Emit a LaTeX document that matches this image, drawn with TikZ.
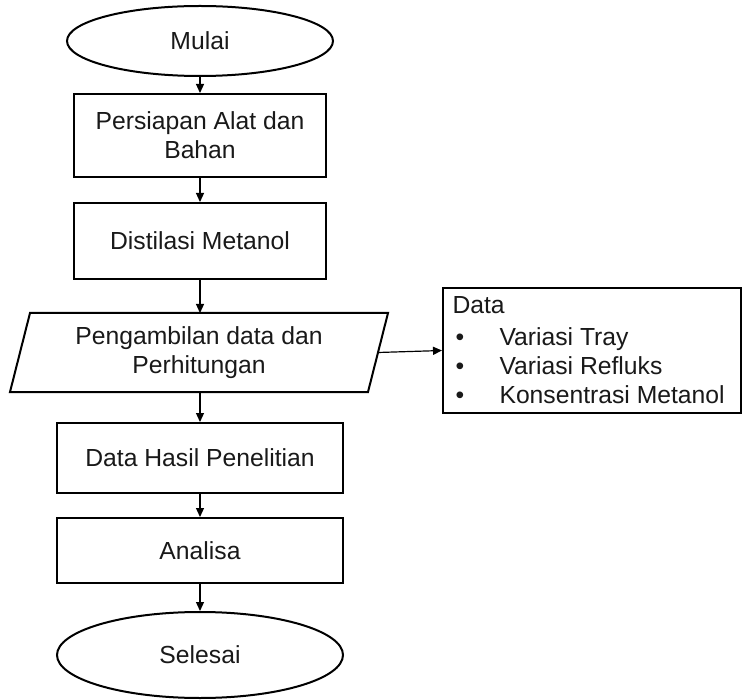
\documentclass[tikz,border=0pt]{standalone}
\usepackage{fontspec}
\setmainfont{Liberation Sans}
\usetikzlibrary{arrows.meta,shapes.geometric,calc}
\begin{document}
\begin{tikzpicture}[x=1pt,y=-1pt,
  every node/.style={font=\fontsize{24.7}{29}\selectfont, text=black!90},
  box/.style={draw, line width=2pt, rectangle, align=center, inner sep=0pt},
  term/.style={draw, line width=2pt, ellipse, inner sep=0pt},
  conn/.style={line width=1.2pt, -{Triangle[length=9pt,width=8pt]}}]
\useasboundingbox (0,0) rectangle (744,700);
% nodes
\node[term, minimum width=266, minimum height=70] (start) at (200,41) {Mulai};
\node[box, minimum width=252, minimum height=83] (prep) at (200,135.5) {Persiapan Alat dan\\Bahan};
\node[box, minimum width=252, minimum height=76] (dist) at (200,241) {Distilasi Metanol};
% parallelogram
\coordinate (ptl) at (30,313);
\coordinate (ptr) at (388,313);
\coordinate (pbr) at (368,392);
\coordinate (pbl) at (10,392);
\draw[line width=2pt, line join=miter] (ptl) -- (ptr) -- (pbr) -- (pbl) -- cycle;
\node[align=center] (para) at (199,352.5) {Pengambilan data dan\\Perhitungan};
\coordinate (pnorth) at (200,313);
\coordinate (psouth) at (200,392);
\coordinate (peast) at ($(ptr)!0.5!(pbr)$);
% data box
\node[box, minimum width=298, minimum height=125] (data) at (592,350.5) {};
\node[anchor=base west] (dt) at (449,314) {Data};
\node[anchor=base west] (b1) at (452,346) {\textbullet};
\node[anchor=base west] (t1) at (496,346) {Variasi Tray};
\node[anchor=base west] (b2) at (452,374) {\textbullet};
\node[anchor=base west] (t2) at (496,374) {Variasi Refluks};
\node[anchor=base west] (b3) at (452,403) {\textbullet};
\node[anchor=base west] (t3) at (496,403) {Konsentrasi Metanol};
% lower nodes
\node[box, minimum width=286, minimum height=70] (hasil) at (200,458) {Data Hasil Penelitian};
\node[box, minimum width=286, minimum height=65] (anal) at (200,550.5) {Analisa};
\node[term, minimum width=286, minimum height=86] (end) at (200,655) {Selesai};
% connectors
\draw[conn] (start.south) -- (start.south |- prep.north);
\draw[conn] (prep.south) -- (dist.north);
\draw[conn] (dist.south) -- (pnorth);
\draw[conn] (peast) -- (data.west);
\draw[conn] (psouth) -- (psouth |- hasil.north);
\draw[conn] (hasil.south) -- (anal.north);
\draw[conn] (anal.south) -- (end.north);
\end{tikzpicture}
\end{document}
